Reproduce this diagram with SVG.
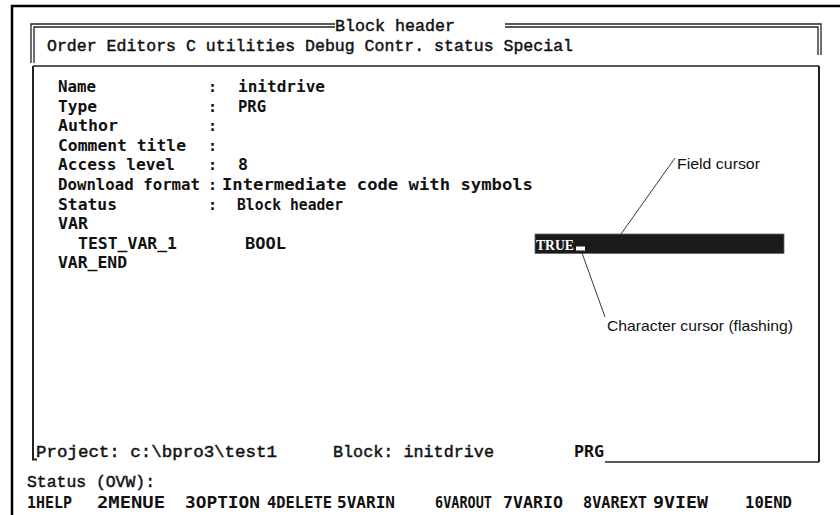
<svg xmlns="http://www.w3.org/2000/svg" width="840" height="515" viewBox="0 0 840 515">
<style>
.ser{font-family:"Liberation Mono","Courier New",monospace;font-size:16.5px;fill:#111;stroke:#111;stroke-width:0.45}
.bld{font-family:"DejaVu Sans Mono","Liberation Mono",monospace;font-weight:bold;font-size:15px;fill:#111}
.ann{font-family:"Liberation Sans",Arial,sans-serif;font-size:15px;fill:#111}
.ln{fill:none;stroke:#222;stroke-width:1.3}
.lead{fill:none;stroke:#222;stroke-width:0.9}
</style>
<rect x="0" y="0" width="840" height="515" fill="#fff"/>
<g id="outer-frame">
  <path d="M12 515 V6 H840" fill="none" stroke="#000" stroke-width="2.5"/>
</g>
<g id="title-window">
  <path class="ln" d="M31 63 V24 H335 M505 24 H821 V55"/>
  <path class="ln" d="M34 63 V27 H335 M505 27 H818 V55"/>
  <text class="ser" x="335" y="31" textLength="120" lengthAdjust="spacingAndGlyphs">Block header</text>
  <text class="ser" x="47" y="51" textLength="526" lengthAdjust="spacingAndGlyphs">Order Editors C utilities Debug Contr. status Special</text>
</g>
<g id="edit-window">
  <path class="ln" d="M33 66 H819"/>
  <path d="M33 66 V459.5 H37" fill="none" stroke="#222" stroke-width="2"/>
  <path d="M819 66 V462" fill="none" stroke="#222" stroke-width="2"/>
  <path class="ln" d="M605 462 H819"/>
</g>
<g id="fields">
  <text class="bld" x="58" y="92" textLength="38" lengthAdjust="spacingAndGlyphs">Name</text>
  <text class="bld" x="58" y="111.5" textLength="39" lengthAdjust="spacingAndGlyphs">Type</text>
  <text class="bld" x="58" y="131" textLength="60" lengthAdjust="spacingAndGlyphs">Author</text>
  <text class="bld" x="58" y="150.5" textLength="128" lengthAdjust="spacingAndGlyphs">Comment title</text>
  <text class="bld" x="58" y="170" textLength="117" lengthAdjust="spacingAndGlyphs">Access level</text>
  <text class="bld" x="58" y="190" textLength="142" lengthAdjust="spacingAndGlyphs">Download format</text>
  <text class="bld" x="58" y="209.5" textLength="59" lengthAdjust="spacingAndGlyphs">Status</text>
  <text class="bld" x="58" y="229" textLength="30" lengthAdjust="spacingAndGlyphs">VAR</text>
  <text class="bld" x="78" y="248.5" textLength="99" lengthAdjust="spacingAndGlyphs">TEST_VAR_1</text>
  <text class="bld" x="245" y="248.5" textLength="41" lengthAdjust="spacingAndGlyphs">BOOL</text>
  <text class="bld" x="58" y="268" textLength="69" lengthAdjust="spacingAndGlyphs">VAR_END</text>
  <text class="bld" x="208" y="92">:</text>
  <text class="bld" x="208" y="111.5">:</text>
  <text class="bld" x="208" y="131">:</text>
  <text class="bld" x="208" y="150.5">:</text>
  <text class="bld" x="208" y="170">:</text>
  <text class="bld" x="208" y="190">:</text>
  <text class="bld" x="208" y="209.5">:</text>
  <text class="bld" x="238" y="92" textLength="87" lengthAdjust="spacingAndGlyphs">initdrive</text>
  <text class="bld" x="238" y="111.5" textLength="28" lengthAdjust="spacingAndGlyphs">PRG</text>
  <text class="bld" x="238" y="170" textLength="10" lengthAdjust="spacingAndGlyphs">8</text>
  <text class="bld" x="222" y="190" textLength="311" lengthAdjust="spacingAndGlyphs">Intermediate code with symbols</text>
  <text class="bld" x="237" y="209.5" textLength="106" lengthAdjust="spacingAndGlyphs">Block header</text>
</g>
<g id="field-cursor">
  <rect x="535" y="234" width="249" height="19.5" fill="#1a1a1a" stroke="#666" stroke-width="0.8"/>
  <text x="536" y="250" font-family="Liberation Serif,serif" font-weight="bold" font-size="15.5" fill="#fff" textLength="38" lengthAdjust="spacingAndGlyphs">TRUE</text>
  <rect id="char-cursor" x="576" y="246.5" width="9" height="4" fill="#fff"/>
</g>
<g id="connectors">
  <path class="lead" d="M675 158 L621 234"/>
  <path class="lead" d="M582 253 L605 317"/>
</g>
<g id="labels">
  <text class="ann" x="677" y="169" textLength="83" lengthAdjust="spacingAndGlyphs">Field cursor</text>
  <text class="ann" x="607" y="331" textLength="186" lengthAdjust="spacingAndGlyphs">Character cursor (flashing)</text>
</g>
<g id="status-bar">
  <text class="ser" x="36" y="457" textLength="241" lengthAdjust="spacingAndGlyphs">Project: c:\bpro3\test1</text>
  <text class="ser" x="333" y="457" textLength="161" lengthAdjust="spacingAndGlyphs">Block: initdrive</text>
  <text class="bld" x="574" y="457" textLength="30" lengthAdjust="spacingAndGlyphs">PRG</text>
  <text class="ser" x="27" y="487" textLength="128" lengthAdjust="spacingAndGlyphs">Status (OVW):</text>
</g>
<g id="function-keys">
  <text class="bld" x="27" y="508" textLength="45" lengthAdjust="spacingAndGlyphs">1HELP</text>
  <text class="bld" x="97" y="508" textLength="68" lengthAdjust="spacingAndGlyphs">2MENUE</text>
  <text class="bld" x="185" y="508" textLength="75" lengthAdjust="spacingAndGlyphs">3OPTION</text>
  <text class="bld" x="267" y="508" textLength="65" lengthAdjust="spacingAndGlyphs">4DELETE</text>
  <text class="bld" x="337" y="508" textLength="58" lengthAdjust="spacingAndGlyphs">5VARIN</text>
  <text class="bld" x="435" y="508" textLength="57" lengthAdjust="spacingAndGlyphs">6VAROUT</text>
  <text class="bld" x="503" y="508" textLength="60" lengthAdjust="spacingAndGlyphs">7VARIO</text>
  <text class="bld" x="583" y="508" textLength="64" lengthAdjust="spacingAndGlyphs">8VAREXT</text>
  <text class="bld" x="653" y="508" textLength="55" lengthAdjust="spacingAndGlyphs">9VIEW</text>
  <text class="bld" x="745" y="508" textLength="47" lengthAdjust="spacingAndGlyphs">10END</text>
</g>
</svg>
